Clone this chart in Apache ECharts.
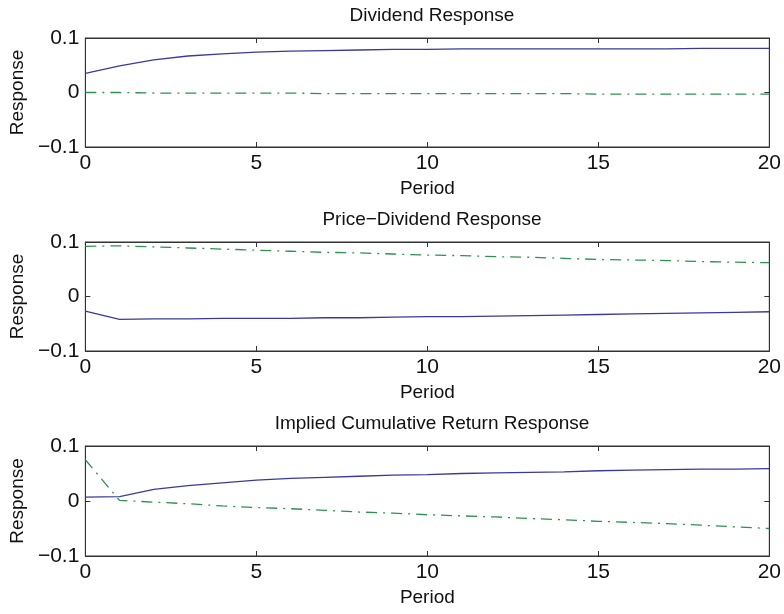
<!DOCTYPE html>
<html>
<head>
<meta charset="utf-8">
<script src="https://cdn.jsdelivr.net/npm/echarts@6/dist/echarts.min.js"></script>
<style>html,body{margin:0;padding:0;background:#fff}#c{width:784px;height:614px}</style>
</head>
<body>
<div id="c"></div>
<script>
var periods = [0,1,2,3,4,5,6,7,8,9,10,11,12,13,14,15,16,17,18,19,20];
var titles = ['Dividend Response','Price\u2212Dividend Response','Implied Cumulative Return Response'];
var yTicks = [-0.1, 0, 0.1];
var xTicks = [0, 5, 10, 15, 20];

var divSolid = [0.035,0.049,0.060,0.067,0.071,0.074,0.076,0.077,0.078,0.079,0.079,0.080,0.080,0.080,0.080,0.080,0.080,0.080,0.081,0.081,0.081];
var divDash  = [0.000,0.000,-0.001,-0.001,-0.001,-0.001,-0.001,-0.002,-0.002,-0.002,-0.002,-0.002,-0.002,-0.002,-0.002,-0.003,-0.003,-0.003,-0.003,-0.003,-0.003];

var pdSolid = [-0.027,-0.042,-0.041,-0.041,-0.040,-0.040,-0.040,-0.039,-0.039,-0.038,-0.037,-0.037,-0.036,-0.035,-0.034,-0.033,-0.032,-0.031,-0.030,-0.029,-0.028];
var pdDash  = [0.092,0.093,0.091,0.089,0.087,0.085,0.083,0.081,0.080,0.078,0.076,0.075,0.073,0.072,0.070,0.068,0.067,0.066,0.064,0.063,0.062];

var crSolid = [0.007,0.008,0.021,0.028,0.033,0.038,0.041,0.043,0.045,0.047,0.048,0.050,0.051,0.052,0.053,0.055,0.056,0.057,0.058,0.058,0.059];
var crDash  = [0.075,0.001,-0.002,-0.005,-0.009,-0.012,-0.014,-0.017,-0.020,-0.022,-0.025,-0.027,-0.029,-0.032,-0.034,-0.037,-0.039,-0.041,-0.044,-0.047,-0.050];

var panels = [[divSolid, divDash],[pdSolid, pdDash],[crSolid, crDash]];
var gridTops = [38, 242, 446];
var gridHeights = [109, 109, 110];
var FONT = "'Liberation Sans', Arial, Helvetica, sans-serif";
var AX = '#333';
var BLUE = '#3a3a9c';
var GREEN = '#2e9150';

function fmtY(v){ if (Math.abs(v) < 1e-9) return '0'; return (v < 0 ? '\u2212' : '') + Math.abs(v).toFixed(1); }

var option = {backgroundColor:'#fff', animation:false, title:[], grid:[], xAxis:[], yAxis:[], series:[]};
for (var i = 0; i < 3; i++) {
  option.title.push({text: titles[i], left: 427, textAlign: 'center', top: gridTops[i] - 37,
    textStyle:{fontFamily:FONT, fontSize:19, fontWeight:'normal', color:'#111'}});
  option.grid.push({left:83, width:688, top:gridTops[i], height:gridHeights[i], show:true, borderColor:AX, borderWidth:1, backgroundColor:'#fff'});
  option.xAxis.push({type:'value', gridIndex:i, min:xTicks[0], max:xTicks[xTicks.length-1], interval:5, position:'bottom',
    name:'Period', nameLocation:'middle', nameGap:32, nameTextStyle:{fontFamily:FONT, fontSize:19, color:'#111'},
    axisLine:{show:true, onZero:false, lineStyle:{color:AX}}, axisTick:{inside:true, length:5, lineStyle:{color:AX}},
    axisLabel:{fontFamily:FONT, fontSize:21, color:'#111', margin:6}, splitLine:{show:false}});
  option.xAxis.push({type:'value', gridIndex:i, min:xTicks[0], max:xTicks[xTicks.length-1], interval:5, position:'top',
    axisLine:{show:true, onZero:false, lineStyle:{color:AX}}, axisTick:{inside:true, length:5, lineStyle:{color:AX}},
    axisLabel:{show:false}, splitLine:{show:false}});
  option.yAxis.push({type:'value', gridIndex:i, min:yTicks[0], max:yTicks[yTicks.length-1], interval:0.1, position:'left',
    name:'Response', nameLocation:'middle', nameGap:58, nameTextStyle:{fontFamily:FONT, fontSize:19, color:'#111'},
    axisLine:{show:true, onZero:false, lineStyle:{color:AX}}, axisTick:{inside:true, length:5, lineStyle:{color:AX}},
    axisLabel:{fontFamily:FONT, fontSize:21, color:'#111', margin:6, formatter:fmtY}, splitLine:{show:false}});
  option.yAxis.push({type:'value', gridIndex:i, min:yTicks[0], max:yTicks[yTicks.length-1], interval:0.1, position:'right',
    axisLine:{show:true, onZero:false, lineStyle:{color:AX}}, axisTick:{inside:true, length:5, lineStyle:{color:AX}},
    axisLabel:{show:false}, splitLine:{show:false}});
  var solid = panels[i][0], dash = panels[i][1];
  option.series.push({type:'line', xAxisIndex:2*i, yAxisIndex:2*i, showSymbol:false, symbol:'none',
    data: periods.map(function(p,k){return [p, solid[k]];}), lineStyle:{color:BLUE, width:1.3}, z:3});
  option.series.push({type:'line', xAxisIndex:2*i, yAxisIndex:2*i, showSymbol:false, symbol:'none',
    data: periods.map(function(p,k){return [p, dash[k]];}), lineStyle:{color:GREEN, width:1.3, type:[11,6,2,6]}, z:3});
}
var chart = echarts.init(document.getElementById('c'), null, {renderer:'canvas'});
chart.setOption(option);
</script>
</body>
</html>
